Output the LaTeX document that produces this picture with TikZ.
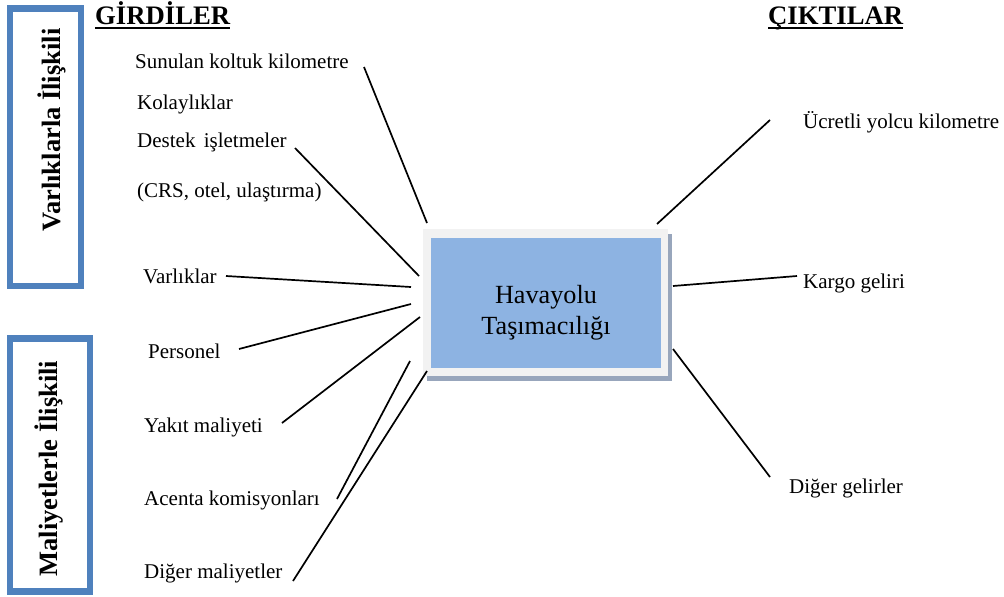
\documentclass[tikz,border=0pt]{standalone}
\usepackage{fontspec}
\setmainfont{Liberation Serif}
\definecolor{frameblue}{HTML}{4F81BD}
\definecolor{hubfill}{HTML}{8DB3E2}
\definecolor{hubframe}{HTML}{F2F2F2}
\definecolor{hubshadow}{HTML}{98A6BC}
\begin{document}
\begin{tikzpicture}[x=1pt,y=-1pt,
  lbl/.style={anchor=base west,inner sep=0pt,font=\fontsize{21}{25}\selectfont},
  head/.style={anchor=base west,inner sep=0pt,font=\fontsize{26.7}{30}\selectfont\bfseries},
  sidelbl/.style={anchor=base,rotate=90,inner sep=0pt,font=\fontsize{26.5}{30}\selectfont\bfseries},
  sideframe/.style={draw=frameblue,line width=6.2pt},
  link/.style={draw=black,line width=1.7pt},
  uline/.style={draw=black,line width=2.3pt}]
\useasboundingbox (0,0) rectangle (1004,597);

% side frames with their rotated titles
\draw[sideframe] (10,8.5) rectangle (81,286);
\node[sidelbl] (varlik) at (60,130) {Varlıklarla İlişkili};
\draw[sideframe] (10,338.5) rectangle (90,591.5);
\node[sidelbl] (maliyet) at (57,468.5) {Maliyetlerle İlişkili};

% headings
\node[head] (girdi) at (95,24.5) {GİRDİLER};
\draw[uline] ([yshift=-3.6pt]girdi.base west) -- ([yshift=-3.6pt]girdi.base east);
\node[head] (cikti) at (768,24.5) {ÇIKTILAR};
\draw[uline] ([yshift=-3.6pt]cikti.base west) -- ([yshift=-3.6pt]cikti.base east);

% central box: shadow, light frame, blue face
\fill[hubshadow] (427,234) rectangle (672,381);
\fill[hubframe] (423,229) rectangle (668,376);
\node[fill=hubfill,minimum width=230pt,minimum height=130pt,inner sep=0pt,anchor=north west] (hub) at (431,238) {};
\node[anchor=base,inner sep=0pt,font=\fontsize{26.2}{31}\selectfont] (hubA) at (546,303) {Havayolu};
\node[anchor=base,inner sep=0pt,font=\fontsize{26.2}{31}\selectfont] (hubB) at (546,334) {Taşımacılığı};

% inputs
\node[lbl] (skk) at (135,68) {Sunulan koltuk kilometre};
\node[lbl] (kol) at (137,109) {Kolaylıklar};
\node[lbl] (des) at (137,147) {Destek\hspace{3pt} işletmeler};
\node[lbl] (crs) at (137,197) {(CRS, otel, ulaştırma)};
\node[lbl] (var) at (143,283) {Varlıklar};
\node[lbl] (per) at (148,358) {Personel};
\node[lbl] (yak) at (144,432) {Yakıt maliyeti};
\node[lbl] (ace) at (144,505) {Acenta komisyonları};
\node[lbl] (dim) at (144,578) {Diğer maliyetler};

% outputs
\node[lbl] (uyk) at (803,128) {Ücretli yolcu kilometre};
\node[lbl] (kar) at (803,288) {Kargo geliri};
\node[lbl] (dig) at (789,493) {Diğer gelirler};

% connector ends
\coordinate (skkA) at (364,67);   \coordinate (skkB) at (427,223);
\coordinate (desA) at (295,148);  \coordinate (desB) at (419,276);
\coordinate (varA) at (226,276);  \coordinate (varB) at (411,287);
\coordinate (perA) at (239,349);  \coordinate (perB) at (411,304);
\coordinate (yakA) at (282,423);  \coordinate (yakB) at (420,317);
\coordinate (aceA) at (337,499);  \coordinate (aceB) at (410,361);
\coordinate (dimA) at (293,581);  \coordinate (dimB) at (427,371);
\coordinate (uykA) at (770,120);  \coordinate (uykB) at (657,224);
\coordinate (karA) at (797,276);  \coordinate (karB) at (673,286);
\coordinate (digA) at (770,477);  \coordinate (digB) at (673,349);

\foreach \k in {skk,des,var,per,yak,ace,dim,uyk,kar,dig}
  \draw[link] (\k A) -- (\k B);
\end{tikzpicture}
\end{document}
